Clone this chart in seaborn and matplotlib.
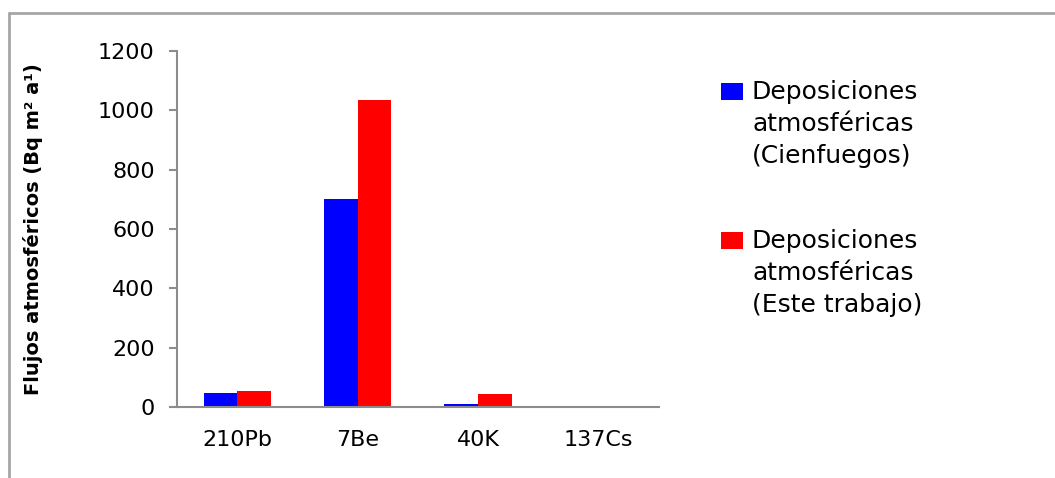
import matplotlib
matplotlib.use("Agg")
import matplotlib.pyplot as plt
from matplotlib.lines import Line2D
from matplotlib.patches import Rectangle
from matplotlib.ticker import FixedLocator
import seaborn as sns
import pandas as pd

# Radionuclides and atmospheric deposition fluxes (Bq m-2 a-1)
nuclides = ["210Pb", "7Be", "40K", "137Cs"]
cienfuegos = [49, 700, 10, 0]
este_trabajo = [56, 1035, 44, 0]
series_names = ["Deposiciones\natmosféricas\n(Cienfuegos)",
                "Deposiciones\natmosféricas\n(Este trabajo)"]
series_colors = ["#0000FF", "#FF0000"]
y_ticks = [0, 200, 400, 600, 800, 1000, 1200]

df = pd.DataFrame({
    "nuclide": nuclides * 2,
    "flujo": cienfuegos + este_trabajo,
    "serie": [series_names[0]] * len(nuclides) + [series_names[1]] * len(nuclides),
})

sns.set_theme(style="white")
plt.rcParams["font.family"] = ["DejaVu Sans"]
plt.rcParams["text.color"] = "black"
plt.rcParams["axes.labelcolor"] = "black"

W, H = 1055, 478
fig = plt.figure(figsize=(W / 100, H / 100), dpi=100)
ax = fig.add_axes([0.1678, 0.1479, 0.4568, 0.7461])

sns.barplot(data=df, x="nuclide", y="flujo", hue="serie", order=nuclides,
            hue_order=series_names, palette=series_colors, saturation=1,
            width=0.56, gap=0, linewidth=0, errorbar=None, legend=False, ax=ax)

axis_grey = "#8c8c8c"
ax.set_ylim(0, 1200)
ax.set_xlim(-0.5, len(nuclides) - 0.5)
ax.set_yticks(y_ticks)
ax.set_yticklabels([str(v) for v in y_ticks])
ax.xaxis.set_minor_locator(FixedLocator([i - 0.5 for i in range(len(nuclides) + 1)]))
ax.tick_params(axis="x", which="major", length=0, pad=16, labelsize=16,
               labelcolor="black")
ax.tick_params(axis="x", which="minor", length=6, width=1.5, color=axis_grey,
               direction="out")
ax.tick_params(axis="y", which="major", length=6, width=1.5, color=axis_grey,
               direction="out", pad=10, labelsize=16, labelcolor="black", left=True)
for side in ["top", "right"]:
    ax.spines[side].set_visible(False)
for side in ["left", "bottom"]:
    ax.spines[side].set_color(axis_grey)
    ax.spines[side].set_linewidth(1.5)

ax.set_xlabel("")
ax.set_ylabel("Flujos atmosféricos (Bq m² a¹)", fontsize=14, fontweight="bold")
ax.yaxis.set_label_coords(-0.278, 0.5)

# Legend: colour key square beside the first line of each three-line label
key_tops = [83, 232]
for name, color, top in zip(series_names, series_colors, key_tops):
    fig.add_artist(Rectangle((721 / W, 1 - (top + 17) / H), 22 / W, 17 / H,
                             facecolor=color, edgecolor="none",
                             transform=fig.transFigure))
    fig.text(752 / W, 1 - (top - 3) / H, name, ha="left", va="top",
             fontsize=18, linespacing=1.42, color="black")

# Outer frame of the chart area
frame_kw = dict(color="#a6a6a6", linewidth=2, transform=fig.transFigure)
fig.add_artist(Line2D([9 / W, 1.0], [1 - 13 / H, 1 - 13 / H], **frame_kw))
fig.add_artist(Line2D([9 / W, 9 / W], [0.0, 1 - 13 / H], **frame_kw))

fig.savefig("out.png", dpi=100)
